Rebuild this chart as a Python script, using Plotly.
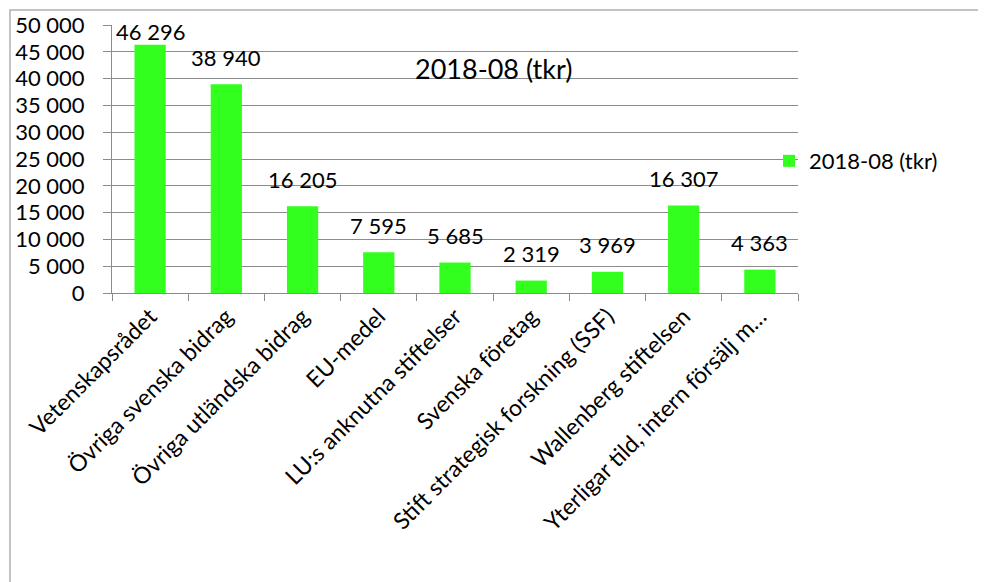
import plotly.graph_objects as go

categories = [
    "Vetenskapsrådet",
    "Övriga svenska bidrag",
    "Övriga utländska bidrag",
    "EU-medel",
    "LU:s anknutna stiftelser",
    "Svenska företag",
    "Stift strategisk forskning (SSF)",
    "Wallenberg stiftelsen",
    "Yterligar tild, intern försälj m…",
]
values = [46296, 38940, 16205, 7595, 5685, 2319, 3969, 16307, 4363]
series_name = "2018-08 (tkr)"
y_ticks = [0, 5000, 10000, 15000, 20000, 25000, 30000, 35000, 40000, 45000, 50000]
y_max = 50000

font_family = "Lato, 'Open Sans', sans-serif"
green = "#33FF1F"
grid = "#8c8c8c"

# page is offset by the body margin (8px); plot area on page: x 112..798, y 25..293
O = 8
W, H = 986, 582
L, T = 112 - O, 25 - O
R = W - (798 - O)
B = H - (293 - O)
pw, ph = W - L - R, H - T - B


def px_x(x):
    return (x - O - L) / pw


def px_y(y):
    return (H - B - (y - O)) / ph


fig = go.Figure(go.Bar(
    x=categories,
    y=values,
    name=series_name,
    marker=dict(color=green, line=dict(width=0)),
    showlegend=True,
))

# value labels: ~27px above the bar top, but kept near the plot top like Excel does
labels = []
for c, v in zip(categories, values):
    bar_top = (y_max - v) / y_max * ph
    shift = min(27, bar_top - 7)
    labels.append(dict(x=c, y=v, text=f"{v:,}".replace(",", " "), showarrow=False,
                       yshift=shift, yanchor="middle",
                       font=dict(size=22, color="black")))

labels.append(dict(text=series_name, x=px_x(493), y=px_y(50), xref="paper", yref="paper",
                   showarrow=False, font=dict(size=27, color="black")))

fig.update_layout(
    width=W, height=H,
    margin=dict(l=L, r=R, t=T, b=B, autoexpand=False),
    paper_bgcolor="white",
    plot_bgcolor="white",
    font=dict(family=font_family, color="black"),
    separators=", ",
    bargap=0.59,
    showlegend=True,
    legend=dict(x=px_x(769), y=px_y(161), xanchor="left", yanchor="middle",
                font=dict(size=22), bgcolor="rgba(0,0,0,0)", itemwidth=30),
    annotations=labels,
    shapes=[dict(type="rect", xref="paper", yref="paper",
                 x0=px_x(10), x1=px_x(1010), y0=px_y(620), y1=px_y(10),
                 line=dict(color="#b0b0b0", width=1.5), layer="below")],
)

fig.update_xaxes(
    type="category",
    tickangle=-45,
    tickfont=dict(size=23),
    showline=True, linecolor=grid, linewidth=1,
    ticks="outside", tickson="boundaries", ticklen=7, tickcolor=grid,
    showgrid=False,
    automargin=False,
)
fig.update_yaxes(
    range=[0, y_max],
    tickvals=y_ticks,
    tickformat=",",
    tickfont=dict(size=22),
    showline=True, linecolor=grid, linewidth=1,
    ticks="outside", ticklen=8, tickcolor=grid,
    ticklabelstandoff=14,
    showgrid=True, gridcolor=grid, gridwidth=1,
    zeroline=False,
    automargin=False,
)

fig.write_html("out.html")
